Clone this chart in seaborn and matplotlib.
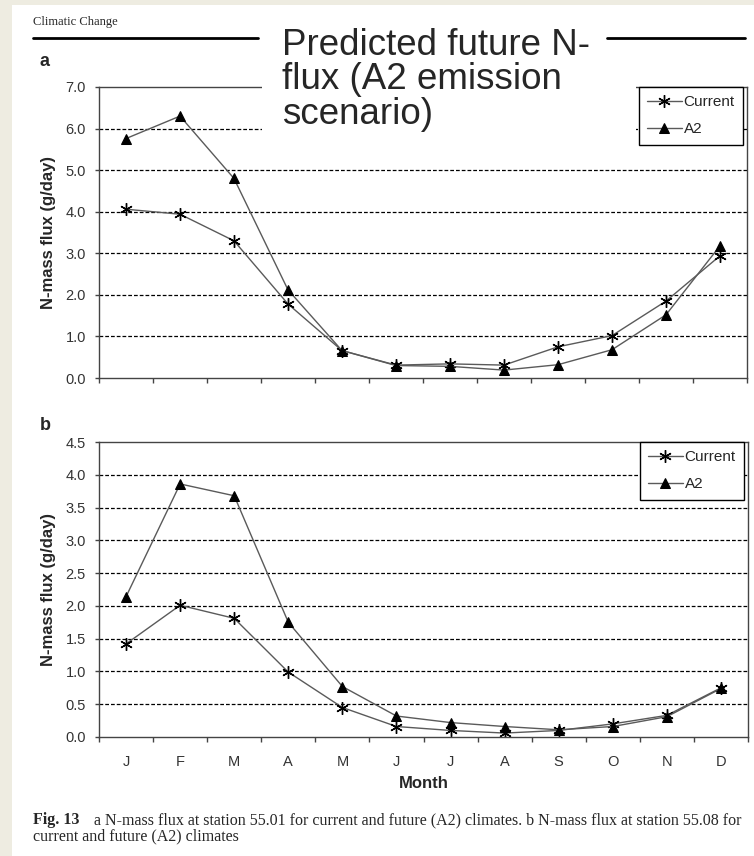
import numpy as np
import pandas as pd
import matplotlib
matplotlib.use("Agg")
import matplotlib.pyplot as plt
from matplotlib.patches import Rectangle
from matplotlib.lines import Line2D
import seaborn as sns

months = ["J", "F", "M", "A", "M", "J", "J", "A", "S", "O", "N", "D"]

# panel a: station 55.01
a_current = [4.06, 3.94, 3.30, 1.78, 0.66, 0.31, 0.34, 0.31, 0.75, 1.02, 1.85, 2.94]
a_a2 = [5.76, 6.30, 4.80, 2.12, 0.66, 0.30, 0.28, 0.19, 0.32, 0.68, 1.52, 3.18]

# panel b: station 55.08
b_current = [1.42, 2.01, 1.81, 0.99, 0.45, 0.16, 0.10, 0.06, 0.10, 0.20, 0.33, 0.75]
b_a2 = [2.14, 3.86, 3.68, 1.75, 0.77, 0.32, 0.22, 0.16, 0.11, 0.16, 0.31, 0.74]

sns.set_style("ticks")
plt.rcParams['font.family'] = ['Liberation Sans', 'DejaVu Sans']

W, H = 754, 856
fig = plt.figure(figsize=(W / 100, H / 100), dpi=100)
fig.patch.set_facecolor("#eeece1")
fig.add_artist(Rectangle((12 / W, 0), 1, 1 - 5 / H, transform=fig.transFigure,
                         facecolor="white", edgecolor="none", zorder=-10))


def px_axes(left, top, right, bottom):
    return fig.add_axes([left / W, 1 - bottom / H, (right - left) / W, (bottom - top) / H])


def draw_panel(ax, current, a2, ymax, ystep, grid_vals):
    x = np.arange(len(months))
    df = pd.DataFrame({"m": x, "Current": current, "A2": a2})
    sns.lineplot(data=df, x="m", y="Current", ax=ax, color="#5a5a5a", lw=1,
                 marker=(6, 2, 0), markersize=9, markeredgecolor="black",
                 markeredgewidth=1.0, label="Current")
    sns.lineplot(data=df, x="m", y="A2", ax=ax, color="#5a5a5a", lw=1,
                 marker="^", markersize=6.5, markerfacecolor="black",
                 markeredgecolor="black", label="A2")
    for g in grid_vals:
        ax.axhline(g, color="black", lw=0.9, ls=(0, (3, 1.6)), zorder=0)
    ax.set_xlim(-0.5, len(months) - 0.5)
    ax.set_ylim(0, ymax)
    yt = np.arange(0, ymax + ystep / 2, ystep)
    ax.set_yticks(yt)
    ax.set_yticklabels([f"{v:.1f}" for v in yt], fontsize=10.5, color="#333333")
    ax.set_xticks(np.arange(-0.5, len(months), 1))
    ax.set_xticklabels([])
    ax.set_xticks(x, minor=True)
    ax.tick_params(axis="x", which="major", direction="out", length=3.6, width=1, color="#444444")
    ax.tick_params(axis="x", which="minor", length=0)
    ax.tick_params(axis="y", direction="out", length=3, width=1, color="#444444", pad=6.5)
    for s in ax.spines.values():
        s.set_visible(True)
        s.set_color("#444444")
        s.set_linewidth(1)
    ax.set_xlabel("")
    ax.set_ylabel("N-mass flux (g/day)", fontsize=12, fontweight="bold", labelpad=7)
    leg = ax.legend(loc="upper right", bbox_to_anchor=(0.994, 1.0), borderaxespad=0,
                    fontsize=11, frameon=True, fancybox=False, handlelength=2.3,
                    handletextpad=0.1, borderpad=0.55, labelspacing=0.85)
    leg.get_frame().set_edgecolor("black")
    leg.get_frame().set_linewidth(1)
    leg.get_frame().set_alpha(1)
    return ax


ax_a = px_axes(99, 87, 747, 378)
draw_panel(ax_a, a_current, a_a2, 7.0, 1.0, [1, 2, 3, 4, 5, 6])

ax_b = px_axes(99, 442, 748, 737)
draw_panel(ax_b, b_current, b_a2, 4.5, 0.5, [0.5, 1.0, 1.5, 2.0, 2.5, 3.0, 3.5, 4.0])
ax_b.set_xticklabels(months, minor=True, fontsize=10.5, color="#333333")
ax_b.tick_params(axis="x", which="minor", pad=13)
ax_b.set_xlabel("Month", fontsize=12, fontweight="bold", labelpad=5)

fig.text(40 / W, 1 - 62 / H, "a", fontsize=13, fontweight="bold", va="center", ha="left")
fig.text(40 / W, 1 - 425 / H, "b", fontsize=13, fontweight="bold", va="center", ha="left")

# journal header
fig.text(33 / W, 1 - 22 / H, "Climatic Change", family="Liberation Serif", fontsize=9,
         va="center", ha="left")
fig.add_artist(Line2D([33 / W, 258 / W], [1 - 38 / H, 1 - 38 / H], color="black", lw=2))
fig.add_artist(Line2D([607 / W, 745 / W], [1 - 38 / H, 1 - 38 / H], color="black", lw=2))

# slide title over the chart
fig.add_artist(Rectangle((262 / W, 1 - 133 / H), (636 - 262) / W, (133 - 45) / H,
                         transform=fig.transFigure, facecolor="white", edgecolor="none", zorder=5))
fig.text(282 / W, 1 - 28 / H, "Predicted future N-\nflux (A2 emission\nscenario)",
         fontsize=26.5, va="top", ha="left", linespacing=0.98, zorder=6)

# caption
fig.text(33 / W, 1 - 820 / H, "Fig. 13", family="Liberation Serif", fontweight="bold",
         fontsize=11.5, va="center", ha="left")
fig.text(94 / W, 1 - 820 / H,
         "a N-mass flux at station 55.01 for current and future (A2) climates. b N-mass flux at station 55.08 for",
         family="Liberation Serif", fontsize=11.5, va="center", ha="left")
fig.text(33 / W, 1 - 836 / H, "current and future (A2) climates",
         family="Liberation Serif", fontsize=11.5, va="center", ha="left")

fig.savefig("out.png", dpi=100, facecolor=fig.get_facecolor())
